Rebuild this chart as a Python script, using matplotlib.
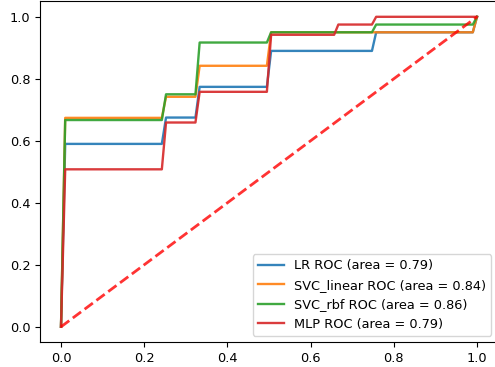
import numpy as np
import matplotlib
matplotlib.use('Agg')
import matplotlib.pyplot as plt

# ROC curve vertices (mean FPR grid of 100 points)
lr_fpr = [0.0, 0.0101, 0.2424, 0.2525, 0.3232, 0.3333, 0.4949, 0.5051, 0.7475, 0.7576, 0.9899, 1.0]
lr_tpr = [0.0, 0.590, 0.590, 0.675, 0.675, 0.774, 0.774, 0.890, 0.890, 0.950, 0.950, 1.0]

svl_fpr = [0.0, 0.0101, 0.2424, 0.2525, 0.3232, 0.3333, 0.4949, 0.5051, 0.9899, 1.0]
svl_tpr = [0.0, 0.674, 0.674, 0.742, 0.742, 0.842, 0.842, 0.950, 0.950, 1.0]

svr_fpr = [0.0, 0.0101, 0.2424, 0.2525, 0.3232, 0.3333, 0.4949, 0.5051, 0.7475, 0.7576, 0.9899, 1.0]
svr_tpr = [0.0, 0.667, 0.667, 0.750, 0.750, 0.917, 0.917, 0.950, 0.950, 0.975, 0.975, 1.0]

mlp_fpr = [0.0, 0.0101, 0.2424, 0.2525, 0.3232, 0.3333, 0.4949, 0.5051, 0.6566, 0.6667, 0.7475, 0.7576, 1.0]
mlp_tpr = [0.0, 0.508, 0.508, 0.659, 0.659, 0.758, 0.758, 0.942, 0.942, 0.975, 0.975, 1.0, 1.0]

labels = ['LR', 'SVC_linear', 'SVC_rbf', 'MLP']
aucs = [0.79, 0.84, 0.86, 0.79]

plt.rcParams['font.size'] = 9.3

fig = plt.figure(figsize=(4.95, 3.67), dpi=100)
ax = fig.add_axes([40.2 / 495, 24.7 / 367, 457.6 / 495, 341 / 367])

curves = [(lr_fpr, lr_tpr), (svl_fpr, svl_tpr), (svr_fpr, svr_tpr), (mlp_fpr, mlp_tpr)]
for (fpr, tpr), name, auc in zip(curves, labels, aucs):
    ax.plot(fpr, tpr, lw=1.7, alpha=0.9, label='%s ROC (area = %0.2f)' % (name, auc))

# chance line
ax.plot([0, 1], [0, 1], linestyle='--', lw=2, color='r', alpha=0.8)

ax.set_xticks([0.0, 0.2, 0.4, 0.6, 0.8, 1.0])
ax.set_yticks([0.0, 0.2, 0.4, 0.6, 0.8, 1.0])
ax.legend(loc='lower right')

fig.savefig('out.png', dpi=100)
